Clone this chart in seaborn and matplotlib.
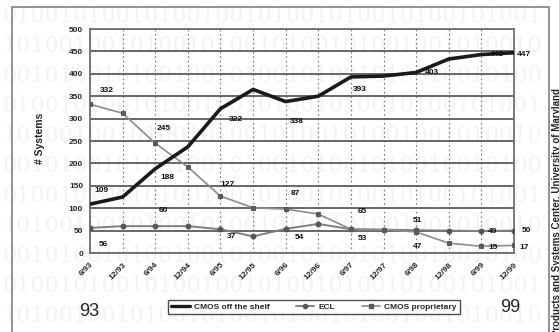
import matplotlib
matplotlib.use("Agg")
import matplotlib.pyplot as plt
import seaborn as sns
import pandas as pd
from matplotlib.patches import Rectangle
from matplotlib.lines import Line2D

# data
dates = ["6/93", "12/93", "6/94", "12/94", "6/95", "12/95", "6/96",
         "12/96", "6/97", "12/97", "6/98", "12/98", "6/99", "12/99"]
cmos_shelf = [109, 125, 188, 237, 322, 365, 338, 350, 393, 395, 403, 433, 443, 447]
ecl = [56, 60, 60, 60, 53, 37, 54, 65, 53, 52, 51, 50, 49, 50]
cmos_prop = [332, 312, 245, 192, 127, 101, 98, 87, 53, 52, 47, 22, 15, 17]

df = pd.DataFrame({"date": dates, "CMOS off the shelf": cmos_shelf,
                   "ECL": ecl, "CMOS proprietary": cmos_prop})
df["pos"] = range(len(dates))

# which points carry a value label, and where the label sits (offset in px)
shelf_labels = [(0, 11, 14), (2, 12, -9), (4, 15, -11), (6, 11, -20),
                (8, 9, -13), (10, 16, 0), (12, 16, 0), (13, 10, -2)]
prop_labels = [(0, 17, 14), (2, 8, 15), (4, 7, 12), (7, -23, 21),
               (8, 11, -9), (10, 1, -15), (12, 12, -1), (13, 10, -2)]
ecl_labels = [(0, 13, -17), (2, 8, 16), (5, -22, 0), (6, 14, -9),
              (7, 44, 12), (10, 1, 10), (12, 11, 0), (13, 12, 0)]

sns.set_style("white")
plt.rcParams["font.family"] = ["Liberation Sans", "DejaVu Sans"]

fig = plt.figure(figsize=(5.59, 3.32), dpi=100)

# very faint binary watermark behind everything
rows = ["01001010010100100101001010010100101001",
        "10100100101001010010100101001001010010",
        "00101001010010010100101001010010010100"]
for k, ypx in enumerate(range(16, 320, 30)):
    fig.text(0.005, 1 - ypx / 332, rows[k % 3], fontsize=16,
             color="#f3f3f3", family="DejaVu Serif", va="center", zorder=-5)

# outer chart frame
fig.patches.append(Rectangle((12 / 559, -0.05), (549 - 12) / 559, 1.05 - 7 / 332,
                             transform=fig.transFigure, fill=False,
                             edgecolor="#8a8a8a", lw=1.3))

ax = fig.add_axes([90 / 559, 1 - 253 / 332, (514 - 90) / 559, (253 - 29) / 332])
ax.patch.set_alpha(0)

sns.lineplot(data=df, x="pos", y="ECL", ax=ax, color="#808080", lw=1.4,
             marker="o", markersize=3.5, markerfacecolor="#555555",
             markeredgecolor="#555555", zorder=3)
sns.lineplot(data=df, x="pos", y="CMOS proprietary", ax=ax, color="#8c8c8c",
             lw=1.2, marker="s", markersize=3.2, markerfacecolor="#5a5a5a",
             markeredgecolor="#5a5a5a", zorder=3)
sns.lineplot(data=df, x="pos", y="CMOS off the shelf", ax=ax, color="#1a1a1a",
             lw=2.6, zorder=4)

lab_kw = dict(textcoords="offset pixels", ha="center", va="center",
              fontsize=6, fontweight="bold", color="#111111", zorder=5)
for col, labels in [("CMOS off the shelf", shelf_labels),
                    ("CMOS proprietary", prop_labels), ("ECL", ecl_labels)]:
    for i, dx, dy in labels:
        v = df[col].iloc[i]
        ax.annotate(str(v), (df["pos"].iloc[i], v), xytext=(dx, dy), **lab_kw)

ax.set_xlim(0, len(dates) - 1)
ax.set_ylim(0, 500)
ax.set_yticks(range(0, 501, 50))
ax.set_xticks(df["pos"])
ax.set_xticklabels(dates, rotation=45, ha="right", rotation_mode="anchor",
                   fontsize=6, fontweight="bold")
for t in ax.get_yticklabels():
    t.set_fontsize(6)
    t.set_fontweight("bold")
ax.tick_params(axis="both", length=3, width=0.8, color="#555555", pad=2)
ax.tick_params(axis="x", pad=3)
ax.set_xlabel("")
ax.set_ylabel("")

ax.yaxis.grid(True, color="#5c5c5c", lw=1.3)
ax.xaxis.grid(True, color="#777777", lw=0.8, ls=(0, (1.5, 2.5)))
ax.set_axisbelow(True)
for s in ax.spines.values():
    s.set_color("#707070")
    s.set_linewidth(1.3)

fig.text(40 / 559, 1 - 138 / 332, "# Systems", rotation=90, fontsize=7.5,
         fontweight="bold", ha="center", va="center")

handles = [Line2D([], [], color="#1a1a1a", lw=2.4),
           Line2D([], [], color="#808080", lw=1.4, marker="o", markersize=3,
                  markerfacecolor="#555555", markeredgecolor="#555555"),
           Line2D([], [], color="#8c8c8c", lw=1.2, marker="s", markersize=3,
                  markerfacecolor="#5a5a5a", markeredgecolor="#5a5a5a")]
leg = fig.legend(handles, ["CMOS off the shelf", "ECL", "CMOS proprietary"],
                 loc="center", bbox_to_anchor=(314 / 559, 1 - 307 / 332), ncol=3,
                 fontsize=6, frameon=True, fancybox=False, handlelength=2.2,
                 columnspacing=3.2, handletextpad=0.5, borderpad=0.4)
leg.get_frame().set_edgecolor("#222222")
leg.get_frame().set_linewidth(1.0)
for t in leg.get_texts():
    t.set_fontweight("bold")

fig.text(89 / 559, 1 - 311 / 332, "93", fontsize=13, ha="center", va="center")
fig.text(510 / 559, 1 - 308 / 332, "99", fontsize=13, ha="center", va="center")

fig.text(557 / 559, 1 - 88 / 332,
         "Electronic Products and Systems Center, University of Maryland",
         rotation=90, fontsize=7, fontweight="bold", ha="center", va="top")

fig.savefig("out.png", dpi=100)
